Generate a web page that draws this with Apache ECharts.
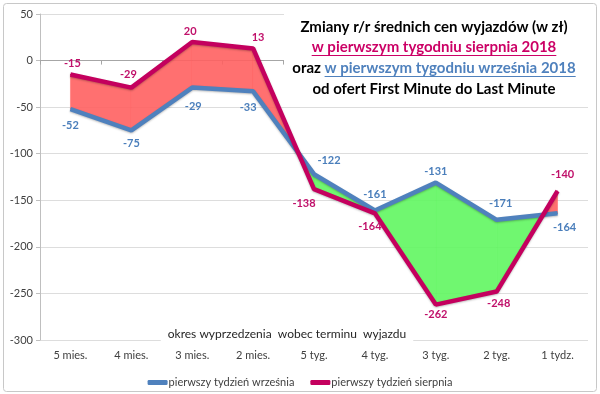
<!DOCTYPE html>
<html>
<head>
<meta charset="utf-8">
<script src="https://cdn.jsdelivr.net/npm/echarts@6/dist/echarts.min.js"></script>
<style>html,body{margin:0;padding:0;background:#fff;}#c{width:600px;height:394px;}</style>
</head>
<body>
<div id="c"></div>
<script>
// ---- data ----
const categories = ['5 mies.', '4 mies.', '3 mies.', '2 mies.', '5 tyg.', '4 tyg.', '3 tyg.', '2 tyg.', '1 tydz.'];
const sierpien = [-15, -29, 20, 13, -138, -164, -262, -248, -140];
const wrzesien = [-52, -75, -29, -33, -122, -161, -131, -171, -164];
const yMin = -300, yMax = 50, yStep = 50;
const nameSierpien = 'pierwszy tydzień sierpnia';
const nameWrzesien = 'pierwszy tydzień września';
const titleLines = ['Zmiany r/r średnich cen wyjazdów (w zł)', 'w pierwszym tygodniu sierpnia 2018', 'oraz ', 'w pierwszym tygodniu września 2018', 'od ofert First Minute do Last Minute'];
const axisTitle = 'okres wyprzedzenia  wobec terminu  wyjazdu';

// ---- styles ----
const FONT = 'Lato';
const C_AUG = '#C4005E';
const C_SEP = '#4F81BD';
const C_AUG_LBL = '#C0106A';
const C_SEP_LBL = '#4A7EBB';
const augLabelCfg = [
  ['top', 2, 0], ['top', -3, -2], ['top', -2, 1], ['top', 5, 0], ['bottom', -10, 3],
  ['bottom', -5, 2], ['bottom', 0, -1], ['bottom', 2, 1], ['top', 5, -6]
];
const sepLabelCfg = [
  ['bottom', 0, 5], ['bottom', 0, 2], ['bottom', 1, 8], ['bottom', -5, 5], ['top', 15, -3],
  ['top', 0, -5], ['top', 0, 0], ['top', 4, -5], ['bottom', 7, 3]
];

function mkData(vals, cfg, color) {
  return vals.map((v, i) => ({
    value: v,
    label: {
      show: true, position: cfg[i][0], offset: [cfg[i][1], cfg[i][2]],
      color: color, fontFamily: FONT, fontWeight: 'bold', fontSize: 11
    }
  }));
}

const segments = [];
for (let i = 0; i < categories.length - 1; i++) {
  segments.push([i, sierpien[i], wrzesien[i], sierpien[i + 1], wrzesien[i + 1]]);
}

function lerp(p, q, t) { return [p[0] + (q[0] - p[0]) * t, p[1] + (q[1] - p[1]) * t]; }

function renderBand(params, api) {
  const i = api.value(0);
  const a0 = api.coord([i, api.value(1)]);
  const s0 = api.coord([i, api.value(2)]);
  const a1 = api.coord([i + 1, api.value(3)]);
  const s1 = api.coord([i + 1, api.value(4)]);
  const d0 = api.value(1) - api.value(2);
  const d1 = api.value(3) - api.value(4);
  const col = d => (d >= 0 ? 'rgba(255,96,96,0.9)' : 'rgba(96,246,96,0.9)');
  const polys = [];
  if (d0 * d1 < 0) {
    const t = d0 / (d0 - d1);
    const x = lerp(a0, a1, t);
    polys.push({ pts: [a0, x, s0], c: col(d0) });
    polys.push({ pts: [x, a1, s1], c: col(d1) });
  } else {
    polys.push({ pts: [a0, a1, s1, s0], c: col(d0 + d1) });
  }
  return {
    type: 'group',
    children: polys.map(p => ({
      type: 'polygon', shape: { points: p.pts },
      style: { fill: p.c, stroke: p.c, lineWidth: 0.5 }
    }))
  };
}

// measure text for underlines
const mctx = document.createElement('canvas').getContext('2d');
function tw(txt, size) { mctx.font = 'bold ' + size + 'px ' + FONT; return mctx.measureText(txt).width; }

const TS = 15;
const TX = 434;
const ty = [27, 47, 68, 89];
const w2 = tw(titleLines[1], TS);
const w3a = tw(titleLines[2], TS), w3b = tw(titleLines[3], TS);
const l3start = TX - (w3a + w3b) / 2 + w3a;

const chart = echarts.init(document.getElementById('c'), null, { renderer: 'canvas' });
chart.setOption({
  animation: false,
  backgroundColor: '#fff',
  textStyle: { fontFamily: FONT },
  grid: { left: 40, right: 12, top: 14, bottom: 54 },
  xAxis: [
    {
      type: 'category', data: categories, position: 'bottom',
      axisLine: { show: false, onZero: false }, axisTick: { show: false },
      axisLabel: { color: '#404040', fontSize: 11, fontFamily: FONT, margin: 10 },
      splitLine: { show: false }
    },
    {
      type: 'category', data: categories, position: 'top',
      axisLine: { show: true, onZero: true, lineStyle: { color: '#A6A6A6', width: 1 } },
      axisTick: { show: true, inside: true, length: 4, lineStyle: { color: '#A6A6A6' } },
      axisLabel: { show: false }, splitLine: { show: false }
    }
  ],
  yAxis: {
    type: 'value', min: yMin, max: yMax, interval: yStep,
    axisLine: { show: true, lineStyle: { color: '#BFBFBF' } },
    axisTick: { show: true, length: 4, lineStyle: { color: '#BFBFBF' } },
    axisLabel: { color: '#404040', fontSize: 11, fontFamily: FONT, margin: 7 },
    splitLine: { show: true, lineStyle: { color: '#DDDDDD', width: 1 } }
  },
  legend: {
    top: 377, left: 'center', itemGap: 16, itemWidth: 20, itemHeight: 5, padding: 0,
    icon: 'roundRect',
    textStyle: { color: '#404040', fontSize: 11, fontFamily: FONT, padding: [0, 0, 0, -4] },
    data: [nameWrzesien, nameSierpien]
  },
  series: [
    {
      type: 'custom', name: 'band', xAxisIndex: 0, renderItem: renderBand,
      data: segments, encode: { x: 0, y: [1, 2, 3, 4] }, z: 1, silent: true
    },
    {
      type: 'line', name: nameWrzesien, data: mkData(wrzesien, sepLabelCfg, C_SEP_LBL),
      xAxisIndex: 0, symbol: 'circle', symbolSize: 1, showSymbol: true, z: 3,
      lineStyle: { color: C_SEP, width: 4.5, shadowColor: 'rgba(0,0,0,0.25)', shadowBlur: 2, shadowOffsetY: 1 },
      itemStyle: { color: C_SEP }
    },
    {
      type: 'line', name: nameSierpien, data: mkData(sierpien, augLabelCfg, C_AUG_LBL),
      xAxisIndex: 0, symbol: 'circle', symbolSize: 1, showSymbol: true, z: 4,
      lineStyle: { color: C_AUG, width: 4.5, shadowColor: 'rgba(0,0,0,0.25)', shadowBlur: 2, shadowOffsetY: 1 },
      itemStyle: { color: C_AUG }
    }
  ],
  graphic: [
    { type: 'rect', shape: { x: 3.5, y: 3.5, width: 593, height: 388, r: 3 }, style: { fill: 'none', stroke: '#C8C8C8', lineWidth: 1 }, z: 100 },
    { type: 'rect', shape: { x: 284, y: 11, width: 306, height: 90 }, style: { fill: '#fff' }, z: 50 },
    { type: 'text', x: TX, y: ty[0], style: { text: titleLines[0], fill: '#000', font: 'bold ' + TS + 'px ' + FONT, align: 'center', verticalAlign: 'middle' }, z: 51 },
    { type: 'text', x: TX, y: ty[1], style: { text: titleLines[1], fill: '#CC0066', font: 'bold ' + TS + 'px ' + FONT, align: 'center', verticalAlign: 'middle' }, z: 51 },
    { type: 'line', shape: { x1: TX - w2 / 2, y1: ty[1] + 8.5, x2: TX + w2 / 2, y2: ty[1] + 8.5 }, style: { stroke: '#CC0066', lineWidth: 1 }, z: 51 },
    { type: 'text', x: TX - (w3a + w3b) / 2, y: ty[2], style: { text: titleLines[2], fill: '#000', font: 'bold ' + TS + 'px ' + FONT, align: 'left', verticalAlign: 'middle' }, z: 51 },
    { type: 'text', x: l3start, y: ty[2], style: { text: titleLines[3], fill: '#4F81BD', font: 'bold ' + TS + 'px ' + FONT, align: 'left', verticalAlign: 'middle' }, z: 51 },
    { type: 'line', shape: { x1: l3start, y1: ty[2] + 8.5, x2: l3start + w3b, y2: ty[2] + 8.5 }, style: { stroke: '#4F81BD', lineWidth: 1 }, z: 51 },
    { type: 'text', x: TX, y: ty[3], style: { text: titleLines[4], fill: '#000', font: 'bold ' + TS + 'px ' + FONT, align: 'center', verticalAlign: 'middle' }, z: 51 },
    { type: 'text', x: 287, y: 334, style: { text: axisTitle, fill: '#262626', font: '12px ' + FONT, align: 'center', verticalAlign: 'middle', backgroundColor: '#fff', padding: [1, 7, 4, 7] }, z: 50 }
  ]
});
</script>
</body>
</html>
